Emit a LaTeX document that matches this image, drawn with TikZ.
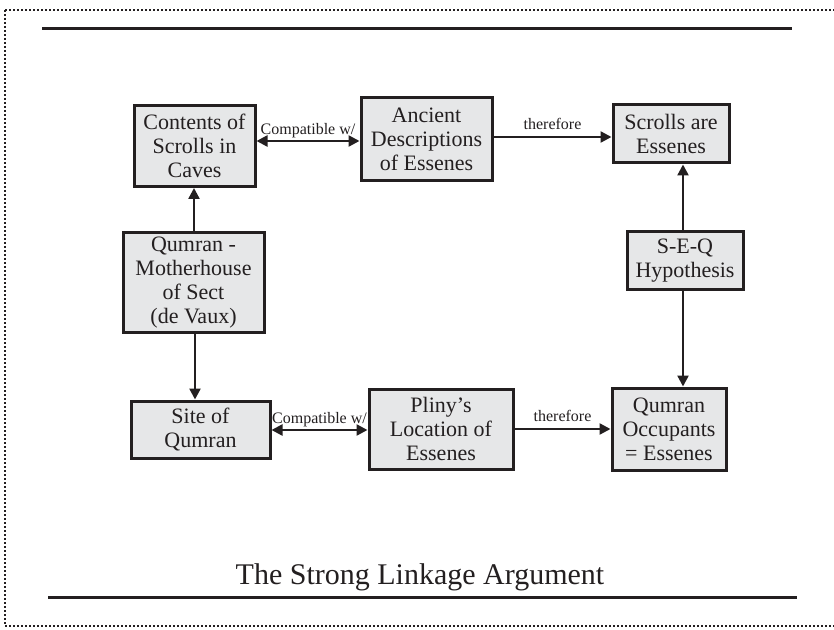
\documentclass[tikz,border=0pt]{standalone}
\usepackage{fontspec}
\setmainfont{Liberation Serif}
\usetikzlibrary{arrows.meta}
\definecolor{boxfill}{HTML}{E6E7E8}
\definecolor{ink}{HTML}{231F20}
\begin{document}
\begin{tikzpicture}[x=0.5pt,y=-0.5pt,
  box/.style={draw=ink,line width=1.5pt,fill=boxfill,align=center,inner sep=0pt,
    font=\fontsize{11}{12}\selectfont,text=ink},
  conn/.style={draw=ink,line width=1.2pt,-{Triangle[length=5.5pt,width=5.5pt]}},
  biconn/.style={draw=ink,line width=1.2pt,{Triangle[length=5.5pt,width=5.5pt]}-{Triangle[length=5.5pt,width=5.5pt]}},
  lbl/.style={font=\fontsize{8}{9}\selectfont,text=ink,inner sep=1pt,above}]
\useasboundingbox (0,0) rectangle (834,630);
\draw[ink,line width=1pt,dash pattern=on 1pt off 1pt] (5,10) -- (5,626) -- (850,626);
\draw[ink,line width=1pt,dash pattern=on 1pt off 1pt] (5,10) -- (850,10);
\draw[ink,line width=1.5pt] (42,29) -- (792,29);
\draw[ink,line width=1.5pt] (48,597) -- (797,597);
\node[text=ink,font=\fontsize{15}{18}\selectfont] (title) at (420,577) {The Strong Linkage Argument};

\node[box,minimum width=121*0.5pt,minimum height=81*0.5pt] (contents) at (194.5,146) {Contents of\\Scrolls in\\Caves};
\node[box,minimum width=131*0.5pt,minimum height=83*0.5pt] (ancient) at (426.5,139.5) {Ancient\\Descriptions\\of Essenes};
\node[box,minimum width=116*0.5pt,minimum height=58*0.5pt] (scrolls) at (671,134) {Scrolls are\\Essenes};
\node[box,minimum width=141*0.5pt,minimum height=100*0.5pt] (mother) at (193.5,283) {Qumran -\\Motherhouse\\of Sect\\(de Vaux)};
\node[box,minimum width=139*0.5pt,minimum height=57*0.5pt] (site) at (200.5,429.5) {Site of\\Qumran};
\node[box,minimum width=144*0.5pt,minimum height=80*0.5pt] (pliny) at (441,429) {Pliny's\\Location of\\Essenes};
\node[box,minimum width=114*0.5pt,minimum height=82*0.5pt] (occup) at (669,429) {Qumran\\Occupants\\= Essenes};
\node[box,minimum width=116*0.5pt,minimum height=58*0.5pt] (seq) at (685,261) {S-E-Q\\Hypothesis};

\draw[biconn] (contents.east |- 0,141) -- node[lbl] {Compatible w/} (ancient.west |- 0,141);
\draw[conn] (ancient.east |- 0,137) -- node[lbl,yshift=2pt] {therefore} (scrolls.west |- 0,137);
\draw[conn] (mother.north -| 194,0) -- (contents.south -| 194,0);
\draw[conn] (mother.south -| 195,0) -- (site.north -| 195,0);
\draw[biconn] (site.east |- 0,430) -- node[lbl] {Compatible w/} (pliny.west |- 0,430);
\draw[conn] (pliny.east |- 0,429) -- node[lbl,yshift=2pt] {therefore} (occup.west |- 0,429);
\draw[conn] (seq.north -| 683,0) -- (scrolls.south -| 683,0);
\draw[conn] (seq.south -| 683,0) -- (occup.north -| 683,0);
\end{tikzpicture}
\end{document}
